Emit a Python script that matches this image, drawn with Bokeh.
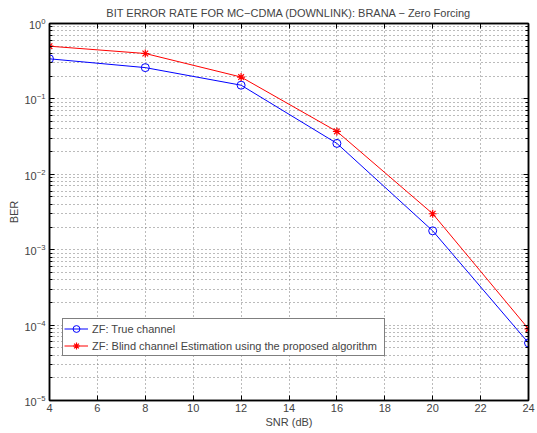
from bokeh.plotting import figure
from bokeh.models import (LinearAxis, LogAxis, FixedTicker, Range1d, Legend, LegendItem,
                          CustomJSTickFormatter)
from bokeh.embed import file_html
from bokeh.resources import INLINE

snr = [4, 8, 12, 16, 20, 24]
ber_true = [0.34, 0.26, 0.152, 0.0257, 0.00178, 5.8e-5]
ber_blind = [0.50, 0.40, 0.195, 0.037, 0.0030, 8.9e-5]

x_ticks = [4, 6, 8, 10, 12, 14, 16, 18, 20, 22, 24]
y_ticks = [1e-5, 1e-4, 1e-3, 1e-2, 1e-1, 1.0]
y_minor = [m * 10.0 ** e for e in range(-5, 0) for m in range(2, 10)]

title_text = "BIT ERROR RATE FOR MC\u2212CDMA (DOWNLINK): BRANA \u2212 Zero Forcing"
x_label = "SNR (dB)"
y_label = "BER"
label_true = "ZF: True channel"
label_blind = "ZF: Blind channel Estimation using the proposed algorithm"

FONT = "Liberation Sans"

p = figure(width=537, height=433, y_axis_type="log",
           x_range=Range1d(4, 24), y_range=Range1d(1e-5, 1),
           output_backend="svg", toolbar_location=None,
           min_border_left=49, min_border_right=9,
           min_border_top=22, min_border_bottom=33)

p.title.text = title_text
p.title.align = "center"
p.title.text_font = FONT
p.title.text_font_size = "11px"
p.title.text_font_style = "normal"
p.title.standoff = 9
p.title.offset = 0

p.outline_line_color = "black"
p.outline_line_width = 1.5

yt = FixedTicker(ticks=y_ticks, minor_ticks=y_minor)
xt = FixedTicker(ticks=x_ticks, minor_ticks=[])

for ax in p.xaxis:
    ax.ticker = xt
for ax in p.yaxis:
    ax.ticker = yt

def style_axis(ax, labels=True):
    ax.axis_line_color = "black"
    ax.axis_line_width = 1.5
    ax.major_tick_in = 5
    ax.major_tick_out = 0
    ax.minor_tick_in = 3
    ax.minor_tick_out = 0
    ax.major_tick_line_color = "black"
    ax.minor_tick_line_color = "black"
    ax.major_label_text_font = FONT
    ax.major_label_text_font_size = "11px"
    ax.major_label_standoff = 4
    ax.axis_label_text_font = FONT
    ax.axis_label_text_font_size = "11px"
    ax.axis_label_text_font_style = "normal"
    if not labels:
        ax.formatter = CustomJSTickFormatter(code="return ''")
        ax.major_label_standoff = 0

style_axis(p.xaxis[0])
style_axis(p.yaxis[0])
p.xaxis[0].axis_label = x_label
p.xaxis[0].axis_label_standoff = 1
p.xaxis[0].major_label_standoff = 3
p.yaxis[0].axis_label = y_label
p.yaxis[0].axis_label_standoff = 1
p.yaxis[0].major_label_standoff = 4

top_ax = LinearAxis(ticker=xt)
style_axis(top_ax, labels=False)
p.add_layout(top_ax, "above")
right_ax = LogAxis(ticker=yt)
style_axis(right_ax, labels=False)
p.add_layout(right_ax, "right")

for g in (p.xgrid[0], p.ygrid[0]):
    g.grid_line_color = "#777777"
    g.grid_line_dash = "1 3"
    g.grid_line_width = 1
p.xgrid[0].ticker = xt
p.ygrid[0].ticker = yt
p.ygrid[0].minor_grid_line_color = "#777777"
p.ygrid[0].minor_grid_line_dash = "1 3"
p.ygrid[0].minor_grid_line_width = 1

l1 = p.line(snr, ber_true, line_color="#0000FF", line_width=1)
m1 = p.scatter(snr, ber_true, marker="circle", size=8, line_color="#0000FF",
               fill_color=None, line_width=1)
l2 = p.line(snr, ber_blind, line_color="#FF0000", line_width=1)
m2 = p.scatter(snr, ber_blind, marker="asterisk", size=8, line_color="#FF0000",
               line_width=1.2)

legend = Legend(items=[LegendItem(label=label_true, renderers=[l1, m1]),
                       LegendItem(label=label_blind, renderers=[l2, m2])],
                location=(13, 44))
legend.label_text_font = FONT
legend.label_text_font_size = "11px"
legend.label_height = 17
legend.glyph_height = 17
legend.glyph_width = 24
legend.label_standoff = 4
legend.padding = 1
legend.spacing = 0
legend.margin = 0
legend.label_width = 291
legend.border_line_color = "black"
legend.border_line_width = 1.5
legend.background_fill_color = "white"
legend.background_fill_alpha = 1
p.add_layout(legend, "center")

open("out.html", "w").write(file_html(p, INLINE))
